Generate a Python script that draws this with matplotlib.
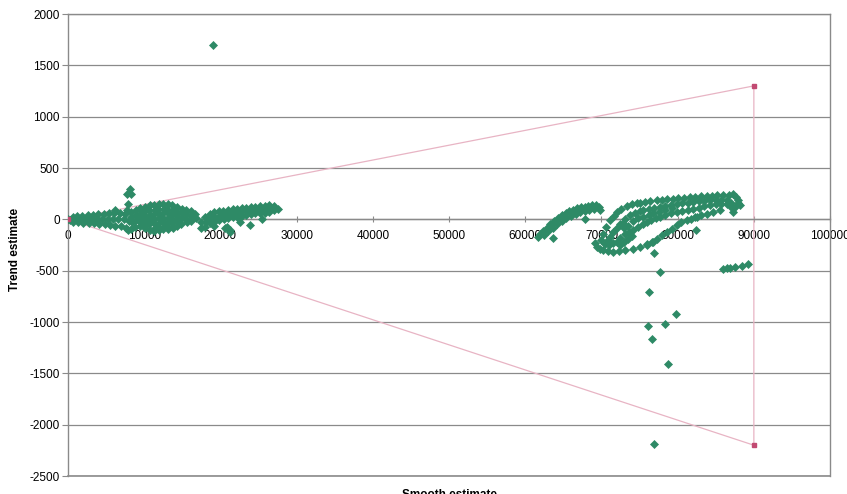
import matplotlib.pyplot as plt
import numpy as np

plt.rcParams['font.family'] = ['Liberation Sans', 'DejaVu Sans']
plt.rcParams['axes.unicode_minus'] = False

# ---- data (smooth estimate, trend estimate) ----
# group near the origin: thin band 0-8000
near_band = [(0, 5), (300, -10), (600, 20), (600, -25), (1000, 5), (1200, 30), (1300, -30),
             (1700, 0), (1900, 35), (2000, -35), (2400, 5), (2600, 40), (2700, -40),
             (3100, 0), (3300, 45), (3400, -40), (3800, 5), (4000, 50), (4100, -45),
             (4500, 0), (4700, 55), (4800, -50), (5200, 5), (5400, 60), (5500, -55),
             (5900, 0), (6100, 60), (6200, -60), (6200, 95), (6600, 5), (6800, 60),
             (6900, -65), (7300, 0), (7500, 55), (7600, -80), (7900, -105), (8000, -20)]
near_spike = [(7700, 88), (7900, 150), (7800, 250), (8200, 250), (8100, 300)]
# thicker blob 8000-17000
near_blob = [(8300, 70), (8300, 20), (8350, -30), (8300, -90),
             (8900, 90), (8950, 40), (8900, -10), (8850, -70),
             (9500, 110), (9550, 60), (9500, 10), (9450, -30), (9500, -60),
             (10100, 125), (10150, 80), (10100, 35), (10050, -10), (10100, -45), (10150, -80),
             (10700, 135), (10650, 90), (10750, 45), (10700, 0), (10650, -50), (10700, -100),
             (11300, 140), (11350, 95), (11300, 50), (11250, 5), (11300, -40), (11350, -85), (11300, -110),
             (11900, 145), (11850, 100), (11900, 55), (11950, 10), (11900, -35), (11850, -75), (11900, -100),
             (12500, 150), (12550, 105), (12500, 60), (12450, 15), (12500, -30), (12550, -70), (12500, -95),
             (13100, 150), (13050, 105), (13100, 60), (13150, 15), (13100, -30), (13050, -65), (13100, -90),
             (13700, 140), (13750, 95), (13700, 50), (13650, 5), (13700, -40), (13750, -80),
             (14300, 120), (14250, 75), (14300, 30), (14350, -15), (14300, -60),
             (14900, 105), (14950, 60), (14900, 15), (14850, -45),
             (15500, 95), (15450, 50), (15500, 5), (15550, -30),
             (16100, 80), (16150, 35), (16100, -15),
             (16700, 50), (16750, 10)]

# second group, 17000-28000
mid_band = [(17400, -30), (17450, -80), (18000, 20), (18050, -30), (17950, -75),
            (18600, 55), (18650, 10), (18600, -40), (19200, 70), (19150, 25), (19250, -20), (19200, -60),
            (19800, 80), (19850, 35), (19800, -10), (20400, 85), (20350, 45), (20450, 0),
            (21000, 95), (21050, 55), (21000, 15), (21600, 100), (21650, 60), (21600, 20),
            (22200, 105), (22250, 65), (22200, 25), (22800, 110), (22750, 75), (22800, 35),
            (23400, 115), (23450, 80), (23400, 45), (24000, 120), (24050, 85), (24000, 55),
            (24600, 125), (24650, 90), (24600, 60), (25200, 130), (25250, 95), (25200, 65),
            (25800, 133), (25850, 100), (25800, 65), (26400, 135), (26450, 100), (26400, 70),
            (27000, 130), (27050, 95), (27500, 100)]
mid_strays = [(20600, -88), (20800, -75), (21250, -107), (21300, -124), (22570, -26),
              (23880, -59), (25410, 6)]

# far group, 60000-90000: arcs
arc_a = [(61720, -172), (61900, -140), (62300, -110), (62800, -80), (63300, -45), (63800, -15),
         (64300, 15), (64800, 40), (65300, 60), (65800, 78), (66300, 95), (66800, 108),
         (67300, 118), (67800, 125), (68300, 130), (68800, 135), (69300, 140), (69700, 120),
         (69800, 90), (62500, -150), (63000, -115), (63600, -80), (64200, -45), (64800, -15),
         (65400, 15), (66000, 35), (66600, 55), (67200, 70), (67800, 85), (68400, 95),
         (69000, 105), (63690, -179), (67850, 7)]
arc_b1 = [(70250, -140), (70600, -75), (71130, -10), (71600, 35), (72000, 72), (72600, 100),
          (73310, 127), (74000, 145), (74600, 155), (75060, 159), (75700, 168), (76400, 175),
          (77250, 185), (77900, 190), (78600, 195), (79440, 201), (80100, 207), (80800, 212),
          (81620, 218), (82300, 221), (83000, 224), (83810, 227), (84500, 232), (85200, 236),
          (86000, 240), (86700, 242), (87310, 244), (87700, 220), (87970, 185), (88190, 136),
          (87900, 160)]
arc_b2 = [(71130, -172), (71500, -120), (72000, -80), (72440, -42), (73100, 0), (73750, 39),
          (74400, 62), (75000, 78), (75500, 88), (76200, 100), (76900, 110), (77690, 120),
          (78400, 130), (79100, 142), (79880, 153), (80600, 158), (81300, 163), (82060, 169),
          (82800, 175), (83500, 180), (84250, 185), (85000, 185), (85700, 185), (86440, 185),
          (87000, 160), (87530, 120)]
arc_b3 = [(72000, -221), (72500, -180), (73100, -145), (73600, -125), (74190, -107),
          (74800, -75), (75400, -45), (75940, -26), (76500, -5), (77100, 10), (77690, 23),
          (78400, 45), (79100, 60), (79880, 72), (80600, 85), (81300, 95), (82060, 104),
          (82800, 115), (83500, 126), (84250, 137), (85000, 145), (85700, 150), (86440, 153),
          (87000, 120), (87310, 72)]
arc_b4 = [(75940, -253), (76600, -220), (77250, -188), (77900, -155), (78560, -123),
          (79200, -90), (79880, -58), (80500, -30), (81190, -10), (81800, 5), (82500, 23),
          (83100, 40), (83810, 55), (84600, 70), (85560, 88)]
arc_low = [(69200, -230), (69380, -270), (69800, -290), (70250, -302), (70900, -312),
           (71560, -319), (72300, -305), (73100, -296), (74190, -286), (75060, -270),
           (75940, -244), (76810, -221)]
far_fill = [(70000, -200), (70500, -240), (71000, -250), (70800, -200), (71500, -230),
            (72500, -250), (73000, -220), (73500, -190), (74000, -160), (73000, -80),
            (72800, -40), (73500, -60), (74200, -20), (74800, 10), (75500, 20),
            (76200, 40), (76800, 60), (77500, 75), (78300, 95), (79200, 110),
            (82410, -101), (82280, 22)]
far_strays = [(76900, -328), (77690, -514), (76250, -708), (79790, -920), (76160, -1034),
              (78350, -1017), (76600, -1163), (78780, -1407), (76940, -2190),
              (86000, -481), (86500, -478), (86880, -471), (87530, -465), (88410, -455),
              (89280, -432), (19030, 1700)]

# bounding lines
bound_x = [90000, 0, 90000, 90000]
bound_y = [1300, 0, -2200, 1300]

groups = [near_band, near_spike, near_blob, mid_band, mid_strays, arc_a, arc_b1, arc_b2,
          arc_b3, arc_b4, arc_low, far_fill, far_strays]
pts = np.array([p for g in groups for p in g], dtype=float)

green = '#2E8A66'
grey = '#8A8A8A'

fig = plt.figure(figsize=(8.47, 4.94), dpi=100)
ax = fig.add_axes([0.0803, 0.0364, 0.8997, 0.9352])

ax.set_xlim(0, 100000)
ax.set_ylim(-2500, 2000)
ax.set_xticks(range(0, 100001, 10000))
ax.set_yticks(range(-2500, 2001, 500))
ax.grid(axis='y', color=grey, lw=0.9, zorder=0)
ax.axhline(-2500, color=grey, lw=1.2, clip_on=False, zorder=1)

ax.plot(bound_x, bound_y, color='#E8B4C4', lw=0.9, zorder=2)
ax.plot([0, 90000, 90000], [0, 1300, -2200], ls='none', marker='s', ms=2.6,
        color='#C24A72', zorder=4)
ax.plot(pts[:, 0], pts[:, 1], ls='none', marker='D', ms=3.9, color=green,
        mec=green, mew=0.5, zorder=3)

for side in ['left', 'right', 'top', 'bottom']:
    ax.spines[side].set_color(grey)
    ax.spines[side].set_linewidth(1.0)
ax.spines['bottom'].set_position(('data', 0))

ax.tick_params(axis='x', direction='inout', length=5, color=grey, pad=5, labelsize=8.5)
ax.tick_params(axis='y', direction='out', length=4, color=grey, pad=2, labelsize=8.5)

ax.set_ylabel('Trend estimate', fontweight='bold', fontsize=8.5)
ax.yaxis.set_label_coords(-0.062, 0.49)
fig.text(449 / 847, 0.0101, 'Smooth estimate', ha='center', va='top',
         fontweight='bold', fontsize=8.5)

fig.savefig('out.png', dpi=100)
